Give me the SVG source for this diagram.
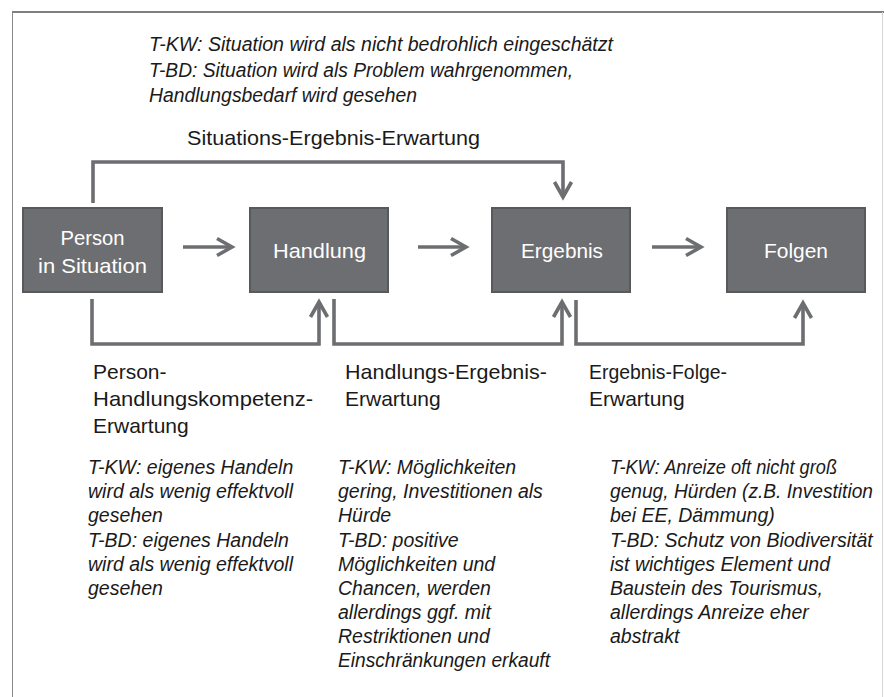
<svg xmlns="http://www.w3.org/2000/svg" width="884" height="697" viewBox="0 0 884 697">
<style>
.box{fill:#6d6e71;stroke:#58595b;stroke-width:2}
.bt{font-family:"Liberation Sans",Arial,sans-serif;font-size:21px;fill:#ffffff;text-anchor:middle}
.lb{font-family:"Liberation Sans",Arial,sans-serif;font-size:21px;fill:#1a1a1a}
.it{font-family:"Liberation Sans",Arial,sans-serif;font-size:19.5px;font-style:italic;fill:#1a1a1a}
.cn{fill:none;stroke:#6d6e71;stroke-width:3.6;stroke-linejoin:miter}
</style>
<defs>
<marker id="chev" viewBox="-20 -12 24 24" markerWidth="24" markerHeight="24" refX="0" refY="0" orient="auto" markerUnits="userSpaceOnUse">
<path d="M-15,-8.5 L0,0 L-15,8.5" fill="none" stroke="#6d6e71" stroke-width="3.6" stroke-linejoin="miter"/>
</marker>
</defs>
<rect x="0" y="0" width="884" height="697" fill="#ffffff"/>
<g id="frame">
<line x1="12" y1="12" x2="884" y2="12" stroke="#555555" stroke-width="1.5"/>
<line x1="12.5" y1="12" x2="12.5" y2="697" stroke="#8a8a8a" stroke-width="1"/>
<line x1="882.5" y1="12" x2="882.5" y2="697" stroke="#d4d4d4" stroke-width="1"/>
</g>
<g id="connectors">
<path class="cn" d="M183,247 H232" marker-end="url(#chev)"/>
<path class="cn" d="M418,247 H466" marker-end="url(#chev)"/>
<path class="cn" d="M652,247 H701" marker-end="url(#chev)"/>
<path class="cn" d="M93,203 V162 H563 V197" marker-end="url(#chev)"/>
<path class="cn" d="M92,299 V344 H319 V302" marker-end="url(#chev)"/>
<path class="cn" d="M334,299 V344 H562 V302" marker-end="url(#chev)"/>
<path class="cn" d="M576,300 V344 H803 V303" marker-end="url(#chev)"/>
</g>
<g id="node-person">
<rect class="box" x="23" y="208" width="139" height="84"/>
<text class="bt" x="92.5" y="245" textLength="64" lengthAdjust="spacingAndGlyphs">Person</text>
<text class="bt" x="92.5" y="273" textLength="109" lengthAdjust="spacingAndGlyphs">in Situation</text>
</g>
<g id="node-handlung">
<rect class="box" x="250" y="208" width="138" height="84"/>
<text class="bt" x="319.5" y="258" textLength="93" lengthAdjust="spacingAndGlyphs">Handlung</text>
</g>
<g id="node-ergebnis">
<rect class="box" x="492" y="208" width="138" height="84"/>
<text class="bt" x="562" y="258" textLength="82" lengthAdjust="spacingAndGlyphs">Ergebnis</text>
</g>
<g id="node-folgen">
<rect class="box" x="727" y="208" width="138" height="84"/>
<text class="bt" x="796" y="258" textLength="64" lengthAdjust="spacingAndGlyphs">Folgen</text>
</g>
<g id="labels">
<text class="it" x="149" y="51" textLength="464" lengthAdjust="spacingAndGlyphs">T-KW: Situation wird als nicht bedrohlich eingeschätzt</text>
<text class="it" x="149" y="77" textLength="424" lengthAdjust="spacingAndGlyphs">T-BD: Situation wird als Problem wahrgenommen,</text>
<text class="it" x="149" y="102" textLength="268" lengthAdjust="spacingAndGlyphs">Handlungsbedarf wird gesehen</text>
<text class="lb" x="187" y="145" textLength="293" lengthAdjust="spacingAndGlyphs">Situations-Ergebnis-Erwartung</text>
<text class="lb" x="93" y="379">Person-</text>
<text class="lb" x="93" y="406" textLength="220" lengthAdjust="spacingAndGlyphs">Handlungskompetenz-</text>
<text class="lb" x="93" y="433">Erwartung</text>
<text class="lb" x="345" y="379" textLength="202" lengthAdjust="spacingAndGlyphs">Handlungs-Ergebnis-</text>
<text class="lb" x="345" y="406">Erwartung</text>
<text class="lb" x="589" y="379" textLength="138" lengthAdjust="spacingAndGlyphs">Ergebnis-Folge-</text>
<text class="lb" x="589" y="406">Erwartung</text>
</g>
<g id="notes">
<text class="it" x="88" y="474">T-KW: eigenes Handeln</text>
<text class="it" x="88" y="498" textLength="205" lengthAdjust="spacingAndGlyphs">wird als wenig effektvoll</text>
<text class="it" x="88" y="522">gesehen</text>
<text class="it" x="88" y="546.5">T-BD: eigenes Handeln</text>
<text class="it" x="88" y="570.5" textLength="205" lengthAdjust="spacingAndGlyphs">wird als wenig effektvoll</text>
<text class="it" x="88" y="594.5">gesehen</text>
<text class="it" x="338" y="474">T-KW: Möglichkeiten</text>
<text class="it" x="338" y="498">gering, Investitionen als</text>
<text class="it" x="338" y="522">Hürde</text>
<text class="it" x="338" y="546.5">T-BD: positive</text>
<text class="it" x="338" y="570.5">Möglichkeiten und</text>
<text class="it" x="338" y="594.5">Chancen, werden</text>
<text class="it" x="338" y="619">allerdings ggf. mit</text>
<text class="it" x="338" y="643">Restriktionen und</text>
<text class="it" x="338" y="667" textLength="212" lengthAdjust="spacingAndGlyphs">Einschränkungen erkauft</text>
<text class="it" x="610" y="474" textLength="227" lengthAdjust="spacingAndGlyphs">T-KW: Anreize oft nicht groß</text>
<text class="it" x="610" y="498" textLength="263" lengthAdjust="spacingAndGlyphs">genug, Hürden (z.B. Investition</text>
<text class="it" x="610" y="522">bei EE, Dämmung)</text>
<text class="it" x="610" y="546.5">T-BD: Schutz von Biodiversität</text>
<text class="it" x="610" y="570.5">ist wichtiges Element und</text>
<text class="it" x="610" y="594.5">Baustein des Tourismus,</text>
<text class="it" x="610" y="619">allerdings Anreize eher</text>
<text class="it" x="610" y="643">abstrakt</text>
</g>
</svg>
